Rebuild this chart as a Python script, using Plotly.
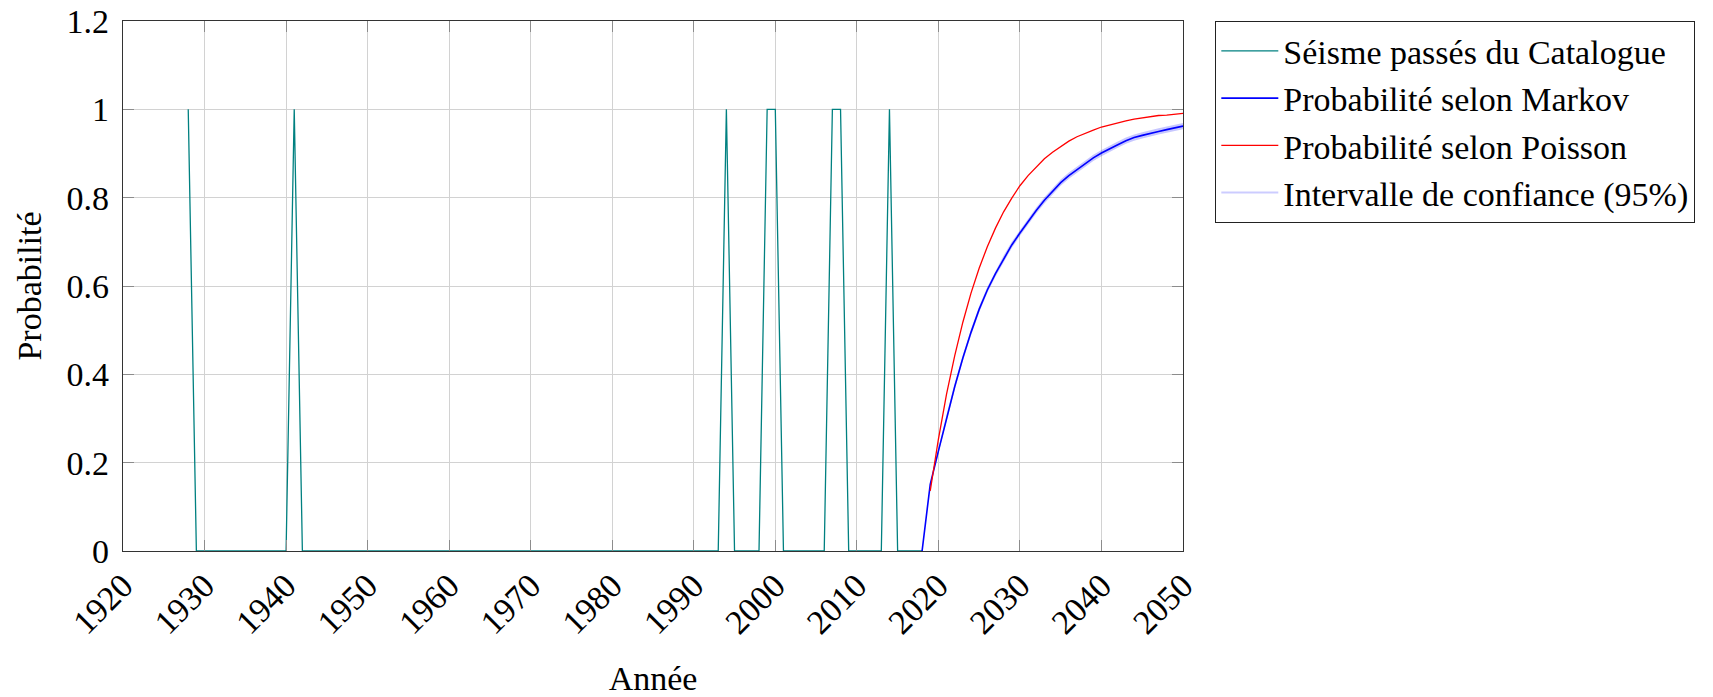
import plotly.graph_objects as go

# Earthquake catalogue: yearly indicator (1 = event recorded that year)
catalogue_start = 1928
catalogue_end = 2018
event_years = [1928, 1941, 1994, 1999, 2000, 2007, 2008, 2014]

# Forecast years and probabilities
markov_years = list(range(2018, 2051))
markov_prob = [0.000, 0.151, 0.226, 0.302, 0.372, 0.437, 0.495, 0.547, 0.591,
               0.628, 0.662, 0.693, 0.720, 0.746, 0.771, 0.794, 0.815, 0.834,
               0.850, 0.864, 0.878, 0.890, 0.901, 0.911, 0.920, 0.929, 0.936,
               0.941, 0.946, 0.950, 0.954, 0.958, 0.962]
ci_low = [0.000, 0.148, 0.221, 0.295, 0.365, 0.430, 0.488, 0.540, 0.584,
          0.621, 0.655, 0.686, 0.713, 0.739, 0.764, 0.787, 0.808, 0.827,
          0.843, 0.857, 0.871, 0.883, 0.894, 0.904, 0.913, 0.922, 0.929,
          0.934, 0.939, 0.943, 0.947, 0.951, 0.955]
ci_high = [0.000, 0.154, 0.231, 0.309, 0.379, 0.444, 0.502, 0.554, 0.598,
           0.635, 0.669, 0.700, 0.727, 0.753, 0.778, 0.801, 0.822, 0.841,
           0.857, 0.871, 0.885, 0.897, 0.908, 0.918, 0.927, 0.936, 0.943,
           0.948, 0.953, 0.957, 0.961, 0.965, 0.969]

poisson_years = list(range(2019, 2051))
poisson_prob = [0.136, 0.253, 0.355, 0.442, 0.518, 0.584, 0.640, 0.689, 0.731,
                0.768, 0.799, 0.827, 0.850, 0.870, 0.888, 0.903, 0.916, 0.928,
                0.938, 0.946, 0.953, 0.960, 0.965, 0.970, 0.974, 0.978, 0.981,
                0.983, 0.986, 0.987, 0.989, 0.991]

x_ticks = list(range(1920, 2051, 10))
y_ticks = [0, 0.2, 0.4, 0.6, 0.8, 1, 1.2]
y_tick_text = ["0", "0.2", "0.4", "0.6", "0.8", "1", "1.2"]

catalogue_years = list(range(catalogue_start, catalogue_end + 1))
catalogue_vals = [1 if y in event_years else 0 for y in catalogue_years]

FONT = "'Liberation Serif', 'Times New Roman', Times, serif"
FS = 34

fig = go.Figure()

fig.add_trace(go.Scatter(
    x=catalogue_years, y=catalogue_vals, mode="lines",
    line=dict(color="#008080", width=1.3),
    name="Séisme passés du Catalogue", legendrank=1))

# 95% confidence band around the Markov curve
fig.add_trace(go.Scatter(
    x=markov_years, y=ci_low, mode="lines",
    line=dict(color="rgba(0,0,255,0)", width=0),
    showlegend=False, hoverinfo="skip"))
fig.add_trace(go.Scatter(
    x=markov_years, y=ci_high, mode="lines", fill="tonexty",
    fillcolor="rgba(0,0,255,0.22)",
    line=dict(color="rgba(0,0,255,0)", width=0),
    showlegend=False, hoverinfo="skip"))

fig.add_trace(go.Scatter(
    x=markov_years, y=markov_prob, mode="lines",
    line=dict(color="#0000ff", width=1.6),
    name="Probabilité selon Markov", legendrank=2))

fig.add_trace(go.Scatter(
    x=poisson_years, y=poisson_prob, mode="lines",
    line=dict(color="#ff0000", width=1.3),
    name="Probabilité selon Poisson", legendrank=3))

# legend entry for the confidence band
fig.add_trace(go.Scatter(
    x=[None], y=[None], mode="lines",
    line=dict(color="rgba(0,0,255,0.2)", width=2),
    name="Intervalle de confiance (95%)", legendrank=4))

axis_common = dict(
    showgrid=True, gridcolor="#d2d2d2", gridwidth=1.2,
    showline=True, linecolor="#333333", linewidth=1.3, mirror="allticks",
    ticks="inside", ticklen=11, tickcolor="#8c8c8c", tickwidth=1.2,
    zeroline=False,
    tickfont=dict(family=FONT, size=FS, color="black"),
)

fig.update_xaxes(
    range=[1920, 2050], tickvals=x_ticks, ticktext=[str(v) for v in x_ticks],
    tickangle=-45,
    title=dict(text="Année", font=dict(family=FONT, size=FS, color="black"),
               standoff=30),
    **axis_common)
fig.update_yaxes(
    range=[0, 1.2], tickvals=y_ticks, ticktext=y_tick_text,
    ticklabelstandoff=6,
    title=dict(text="Probabilité", font=dict(family=FONT, size=FS, color="black"),
               standoff=14),
    **axis_common)

fig.update_layout(
    width=1713, height=697,
    margin=dict(l=123, r=530, t=21, b=146, autoexpand=False),
    paper_bgcolor="white", plot_bgcolor="white",
    font=dict(family=FONT, size=FS, color="black"),
    showlegend=True,
    legend=dict(
        x=1.0302, y=1, xanchor="left", yanchor="top",
        traceorder="normal",
        bordercolor="#222222", borderwidth=1.3, bgcolor="white",
        font=dict(family=FONT, size=FS, color="black"),
        itemwidth=57, tracegroupgap=0,
    ),
)

fig.write_html("out.html")
